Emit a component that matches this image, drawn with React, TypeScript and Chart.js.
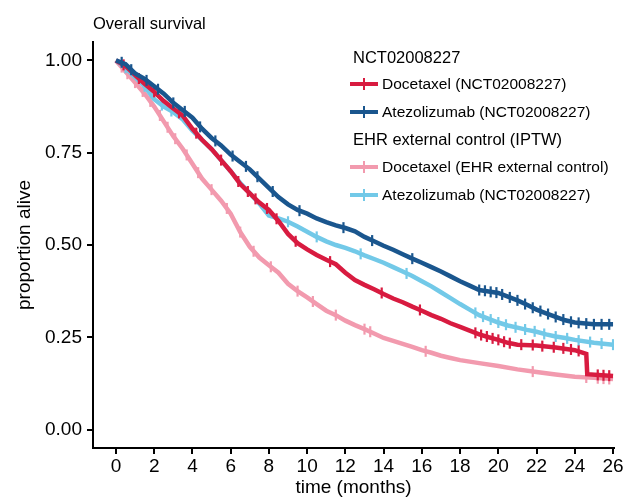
import React, { useEffect, useRef } from "react";
import { Chart, registerables } from "chart.js";

Chart.register(...registerables);

// ---------- data ----------
const xTicks = [0, 2, 4, 6, 8, 10, 12, 14, 16, 18, 20, 22, 24, 26];
const yTicks = [0, 0.25, 0.5, 0.75, 1.0];

// Atezolizumab (NCT02008227) - dark blue
const atzTime = [0, 0.5, 1, 1.5, 2, 2.5, 3, 3.5, 4, 4.5, 5, 5.5, 6, 6.5, 7, 7.5, 8, 8.5, 9, 9.5, 10, 10.5, 11, 11.5, 12, 12.5, 13, 13.5, 14, 14.5, 15, 15.5, 16, 16.5, 17, 17.5, 18, 18.5, 19, 19.5, 20, 20.5, 21, 21.5, 22, 22.5, 23, 23.5, 24, 25, 26];
const atzSurv = [1.0, 0.99, 0.965, 0.95, 0.93, 0.91, 0.885, 0.865, 0.845, 0.815, 0.79, 0.77, 0.745, 0.725, 0.705, 0.68, 0.655, 0.63, 0.61, 0.595, 0.585, 0.572, 0.562, 0.553, 0.546, 0.537, 0.522, 0.51, 0.498, 0.487, 0.475, 0.463, 0.452, 0.44, 0.428, 0.415, 0.402, 0.39, 0.378, 0.374, 0.37, 0.36, 0.35, 0.338, 0.325, 0.315, 0.305, 0.296, 0.29, 0.285, 0.285];
const atzCens = [[0.3, 0.995], [0.8, 0.975], [1.6, 0.946], [2.2, 0.922], [3.0, 0.885], [3.6, 0.862], [4.4, 0.82], [5.2, 0.782], [6.1, 0.741], [6.8, 0.713], [7.4, 0.685], [8.2, 0.645], [9.6, 0.593], [11.9, 0.547], [13.4, 0.512], [15.5, 0.463], [19.0, 0.378], [19.3, 0.376], [19.6, 0.373], [19.9, 0.371], [20.2, 0.366], [20.6, 0.358], [21.0, 0.35], [21.4, 0.34], [21.8, 0.33], [22.2, 0.321], [22.6, 0.313], [23.0, 0.305], [23.4, 0.298], [23.8, 0.292], [24.2, 0.289], [24.6, 0.287], [25.0, 0.285], [25.4, 0.285], [25.8, 0.285]];

// Docetaxel (NCT02008227) - red
const dtxTime = [0, 0.5, 1, 1.5, 2, 2.5, 3, 3.5, 4, 4.5, 5, 5.5, 6, 6.5, 7, 7.5, 8, 8.5, 9, 9.5, 10, 10.5, 11, 11.5, 12, 12.5, 13, 13.5, 14, 14.5, 15, 15.5, 16, 16.5, 17, 17.5, 18, 18.5, 19, 19.5, 20, 20.5, 21, 22, 23, 24, 24.6, 24.65, 26];
const dtxSurv = [1.0, 0.985, 0.96, 0.937, 0.915, 0.89, 0.87, 0.85, 0.815, 0.785, 0.76, 0.73, 0.7, 0.665, 0.64, 0.615, 0.595, 0.565, 0.53, 0.505, 0.488, 0.473, 0.46, 0.448, 0.425, 0.405, 0.392, 0.38, 0.367, 0.355, 0.345, 0.333, 0.322, 0.31, 0.3, 0.288, 0.278, 0.268, 0.258, 0.25, 0.243, 0.235, 0.23, 0.228, 0.222, 0.215, 0.205, 0.15, 0.145];
const dtxCens = [[0.4, 0.988], [1.2, 0.951], [2.0, 0.915], [3.3, 0.858], [4.2, 0.803], [5.5, 0.73], [6.4, 0.672], [6.9, 0.645], [7.3, 0.625], [7.9, 0.599], [8.4, 0.571], [9.4, 0.51], [11.2, 0.455], [13.9, 0.37], [15.9, 0.324], [18.8, 0.262], [19.1, 0.256], [19.4, 0.252], [19.7, 0.247], [20.0, 0.243], [20.3, 0.238], [20.6, 0.234], [21.2, 0.23], [21.8, 0.229], [22.3, 0.226], [22.9, 0.223], [23.4, 0.22], [23.8, 0.217], [24.2, 0.213], [25.2, 0.148], [25.5, 0.147], [25.8, 0.146]];

// Atezolizumab (IPTW weighted) - light blue
const atzWTime = [0, 0.5, 1, 1.5, 2, 2.5, 3, 3.5, 4, 4.5, 5, 5.5, 6, 6.5, 7, 7.5, 8, 8.5, 9, 9.5, 10, 10.5, 11, 11.5, 12, 12.5, 13, 13.5, 14, 14.5, 15, 15.5, 16, 16.5, 17, 17.5, 18, 18.5, 19, 19.5, 20, 20.5, 21, 21.5, 22, 22.5, 23, 23.5, 24, 25, 26];
const atzWSurv = [1.0, 0.98, 0.955, 0.93, 0.895, 0.875, 0.86, 0.84, 0.81, 0.785, 0.76, 0.73, 0.7, 0.668, 0.64, 0.612, 0.58, 0.572, 0.563, 0.55, 0.536, 0.522, 0.51, 0.5, 0.492, 0.483, 0.472, 0.462, 0.452, 0.44, 0.428, 0.416, 0.402, 0.388, 0.372, 0.356, 0.34, 0.325, 0.31, 0.3, 0.29, 0.282, 0.276, 0.27, 0.265, 0.258, 0.252, 0.248, 0.243, 0.235, 0.23];
const atzWCens = [[0.5, 0.98], [1.5, 0.93], [2.4, 0.879], [2.9, 0.863], [9.0, 0.563], [10.5, 0.522], [12.8, 0.476], [15.2, 0.423], [18.8, 0.316], [19.2, 0.306], [19.6, 0.298], [20.0, 0.29], [20.4, 0.284], [20.9, 0.277], [21.4, 0.271], [21.9, 0.266], [22.4, 0.259], [23.0, 0.252], [23.6, 0.247], [24.2, 0.241], [24.8, 0.237], [25.4, 0.233], [26.0, 0.23]];

// Docetaxel (EHR external control) - pink
const ehrTime = [0, 0.5, 1, 1.5, 2, 2.5, 3, 3.5, 4, 4.5, 5, 5.5, 6, 6.5, 7, 7.5, 8, 8.5, 9, 9.5, 10, 10.5, 11, 11.5, 12, 12.5, 13, 13.5, 14, 14.5, 15, 15.5, 16, 16.5, 17, 17.5, 18, 19, 20, 21, 22, 23, 24, 25, 26];
const ehrSurv = [1.0, 0.97, 0.94, 0.91, 0.875, 0.835, 0.795, 0.76, 0.72, 0.68, 0.65, 0.62, 0.585, 0.535, 0.495, 0.466, 0.445, 0.425, 0.395, 0.375, 0.358, 0.34, 0.322, 0.31, 0.295, 0.283, 0.272, 0.26, 0.248, 0.24, 0.232, 0.224, 0.215, 0.208, 0.2, 0.194, 0.188, 0.18, 0.172, 0.163, 0.156, 0.149, 0.143, 0.14, 0.137];
const ehrCens = [[0.3, 0.982], [0.6, 0.964], [1.0, 0.94], [1.4, 0.916], [1.8, 0.889], [2.3, 0.851], [2.7, 0.819], [3.1, 0.788], [3.7, 0.744], [4.3, 0.696], [5.0, 0.65], [5.8, 0.599], [6.5, 0.535], [7.2, 0.483], [8.1, 0.441], [9.5, 0.375], [10.3, 0.347], [11.5, 0.31], [13.0, 0.272], [13.3, 0.265], [16.2, 0.212], [21.8, 0.157], [24.6, 0.141], [25.2, 0.139], [25.5, 0.138], [25.8, 0.137]];

const RED = "#D81B40";
const DARKBLUE = "#1A568E";
const PINK = "#F29AAE";
const LIGHTBLUE = "#72C9E8";

const FONT = "'Liberation Sans', Arial, Helvetica, sans-serif";

const legendItems = [
  { kind: "header", text: "NCT02008227", y: 57 },
  { kind: "item", text: "Docetaxel (NCT02008227)", color: RED, y: 84 },
  { kind: "item", text: "Atezolizumab (NCT02008227)", color: DARKBLUE, y: 112 },
  { kind: "header", text: "EHR external control (IPTW)", y: 139 },
  { kind: "item", text: "Docetaxel (EHR external control)", color: PINK, y: 167 },
  { kind: "item", text: "Atezolizumab (NCT02008227)", color: LIGHTBLUE, y: 195 },
];

function lineDs(time: number[], surv: number[], color: string, order: number) {
  return {
    type: "line" as const,
    data: time.map((t, i) => ({ x: t, y: surv[i] })),
    borderColor: color,
    backgroundColor: color,
    borderWidth: 4.5,
    pointRadius: 0,
    tension: 0,
    fill: false,
    showLine: true,
    order,
  };
}

function censDs(pairs: number[][], color: string, order: number) {
  return {
    type: "scatter" as const,
    data: pairs.map((p) => ({ x: p[0], y: p[1] })),
    borderColor: color,
    backgroundColor: color,
    pointStyle: "line" as const,
    rotation: 90,
    pointRadius: 5.5,
    borderWidth: 2.2,
    showLine: false,
    order,
  };
}

export default function App() {
  const ref = useRef<HTMLCanvasElement | null>(null);

  useEffect(() => {
    if (!ref.current) return;
    const chart = new Chart(ref.current, {
      type: "scatter",
      data: {
        datasets: [
          censDs(atzCens, DARKBLUE, 0),
          lineDs(atzTime, atzSurv, DARKBLUE, 0),
          censDs(dtxCens, RED, 1),
          lineDs(dtxTime, dtxSurv, RED, 1),
          censDs(atzWCens, LIGHTBLUE, 2),
          lineDs(atzWTime, atzWSurv, LIGHTBLUE, 2),
          censDs(ehrCens, PINK, 3),
          lineDs(ehrTime, ehrSurv, PINK, 3),
        ] as any,
      },
      options: {
        animation: false,
        responsive: false,
        maintainAspectRatio: false,
        events: [],
        layout: { padding: { top: 42, right: 12, left: 0, bottom: 0 } },
        plugins: {
          legend: { display: false },
          tooltip: { enabled: false },
          title: { display: false },
        },
        scales: {
          x: {
            type: "linear",
            min: -1.2,
            max: 26.05,
            afterBuildTicks: (s: any) => {
              s.ticks = xTicks.map((v) => ({ value: v }));
            },
            afterFit: (s: any) => {
              s.height = 52;
            },
            border: { display: true, color: "#000", width: 2 },
            grid: { drawOnChartArea: false, drawTicks: true, tickLength: 6, color: "#000", lineWidth: 2 },
            ticks: {
              color: "#000",
              font: { family: FONT, size: 19 },
              padding: 1,
              maxRotation: 0,
              autoSkip: false,
              callback: (v: any) => String(v),
            },
            title: {
              display: true,
              text: "time (months)",
              color: "#000",
              font: { family: FONT, size: 19 },
              padding: { top: 0, bottom: 1 },
            },
          },
          y: {
            type: "linear",
            min: -0.05,
            max: 1.05,
            afterBuildTicks: (s: any) => {
              s.ticks = yTicks.map((v) => ({ value: v }));
            },
            afterFit: (s: any) => {
              s.width = 93;
            },
            border: { display: true, color: "#000", width: 2 },
            grid: { drawOnChartArea: false, drawTicks: true, tickLength: 6, color: "#000", lineWidth: 2 },
            ticks: {
              color: "#000",
              font: { family: FONT, size: 19 },
              padding: 5,
              autoSkip: false,
              callback: (v: any) => Number(v).toFixed(2),
            },
            title: {
              display: true,
              text: "proportion alive",
              color: "#000",
              font: { family: FONT, size: 19 },
              padding: { top: 13, bottom: 0 },
            },
          },
        },
      } as any,
    });
    return () => chart.destroy();
  }, []);

  return (
    <div
      style={{
        position: "absolute",
        left: 0,
        top: 0,
        width: 626,
        height: 500,
        background: "#fff",
        fontFamily: FONT,
        color: "#000",
        overflow: "hidden",
      }}
    >
      <canvas ref={ref} width={626} height={500} style={{ position: "absolute", left: 0, top: 0, width: 626, height: 500 }} />
      <div
        style={{
          position: "absolute",
          left: 93,
          top: 23,
          transform: "translateY(-50%)",
          fontSize: 16.5,
          lineHeight: "20px",
          whiteSpace: "nowrap",
        }}
      >
        Overall survival
      </div>
      {legendItems.map((it, i) =>
        it.kind === "header" ? (
          <div
            key={i}
            style={{
              position: "absolute",
              left: 353,
              top: it.y,
              transform: "translateY(-50%)",
              fontSize: 16.5,
              lineHeight: "20px",
              whiteSpace: "nowrap",
            }}
          >
            {it.text}
          </div>
        ) : (
          <div key={i}>
            <div
              style={{
                position: "absolute",
                left: 350,
                top: it.y - 2.25,
                width: 28,
                height: 4.5,
                background: it.color,
              }}
            />
            <div
              style={{
                position: "absolute",
                left: 363,
                top: it.y - 6,
                width: 2.2,
                height: 12,
                background: it.color,
              }}
            />
            <div
              style={{
                position: "absolute",
                left: 382,
                top: it.y,
                transform: "translateY(-50%)",
                fontSize: 15.5,
                lineHeight: "20px",
                whiteSpace: "nowrap",
              }}
            >
              {it.text}
            </div>
          </div>
        )
      )}
    </div>
  );
}
